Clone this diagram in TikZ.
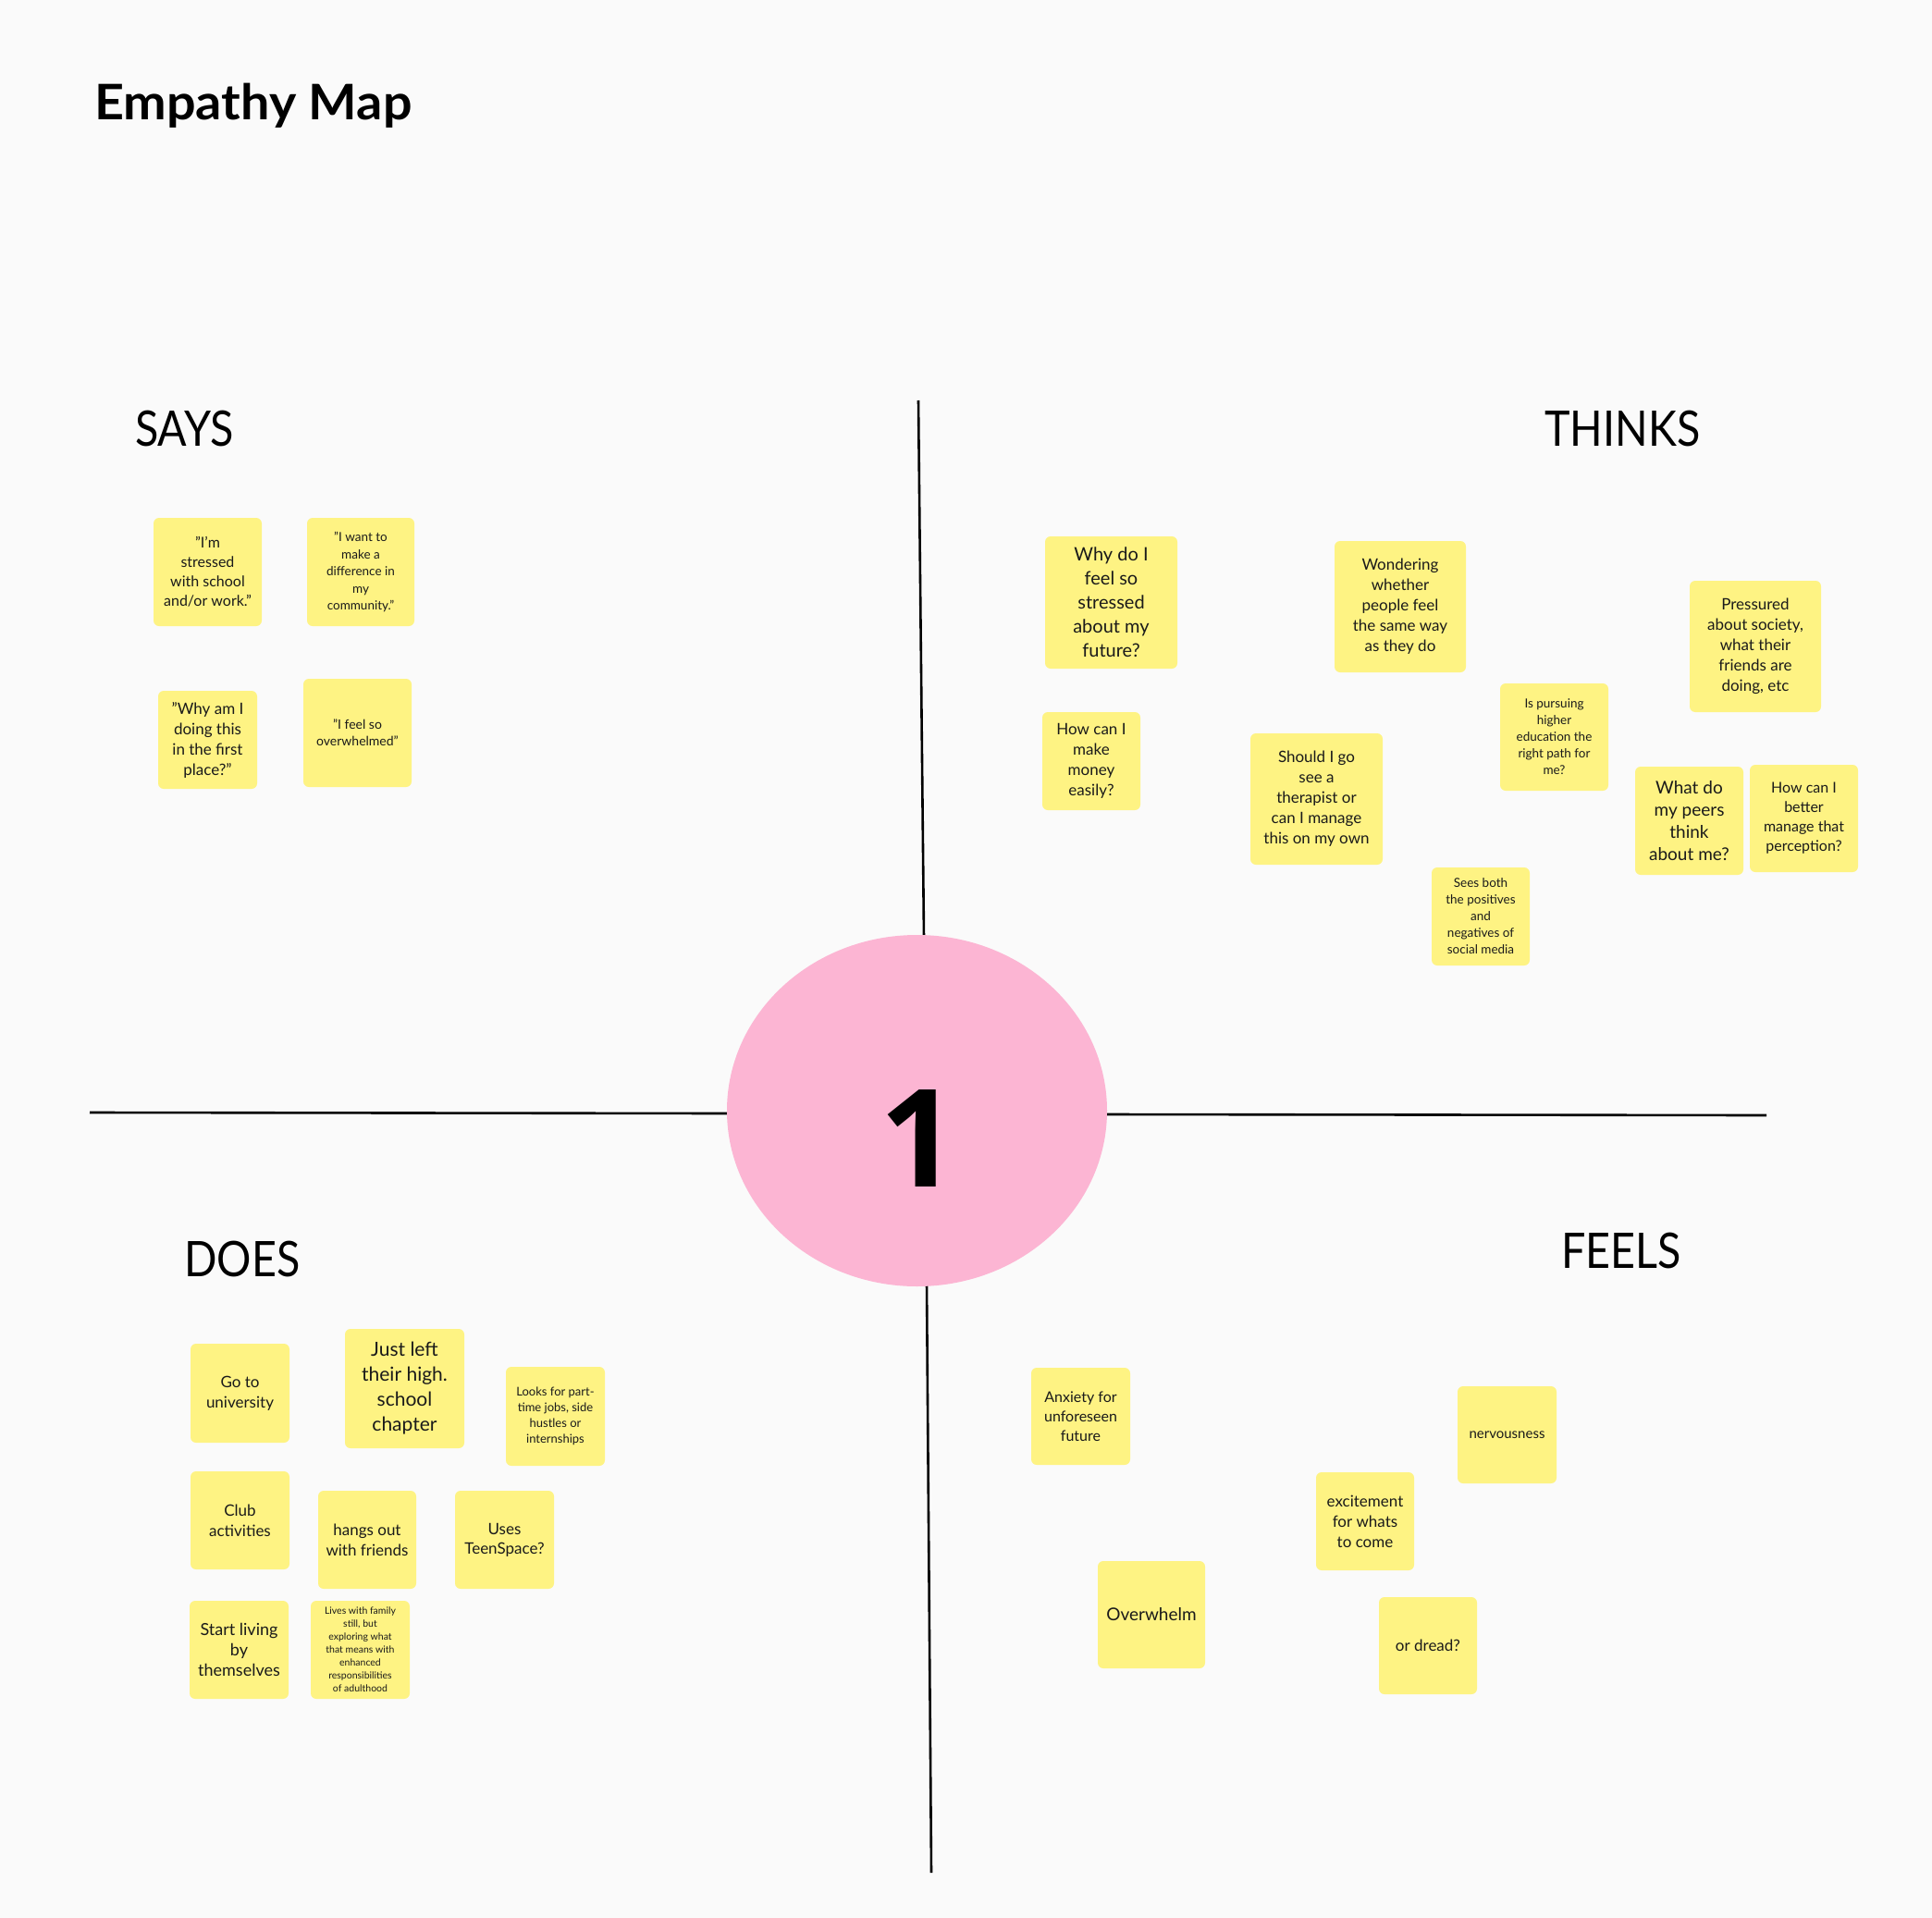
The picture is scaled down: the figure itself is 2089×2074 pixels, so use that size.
\documentclass[tikz,border=0pt]{standalone}
\usepackage{fontspec}
\setmainfont{Lato}
\newfontfamily\numfont{Open Sans}
\usetikzlibrary{shapes.geometric}
\definecolor{bgc}{HTML}{FAFAFA}
\definecolor{sticky}{HTML}{FEF383}
\definecolor{pinkc}{HTML}{FCB5D3}
\definecolor{ink}{HTML}{1A1A1A}
\newcommand{\hdr}[1]{\scalebox{0.88}[1]{#1}}
\begin{document}
\begin{tikzpicture}[x=1pt,y=-1pt,
  note/.style={fill=sticky, rounded corners=6pt, align=center, inner sep=0pt, text=ink},
  sz/.style 2 args={minimum width=#1, minimum height=#2},
  fnt/.style 2 args={font=\fontsize{#1}{#2}\selectfont},
  header/.style={anchor=base west, inner sep=0pt, text=black, font=\fontsize{53}{60}\selectfont},
  axis/.style={line width=2.6pt, black}]
\fill[bgc] (0,0) rectangle (2089,2074);
\useasboundingbox (0,0) rectangle (2089,2074);

\node[anchor=base west, inner sep=0pt, font=\fontsize{53}{60}\selectfont\bfseries] (title) at (102,130) {\scalebox{1.05}[1]{Empathy Map}};

% axes
\coordinate (vt1) at (993,433);
\coordinate (vt2) at (999,1015);
\coordinate (vb1) at (1002,1387);
\coordinate (vb2) at (1007,2025);
\coordinate (hl1) at (97,1203);
\coordinate (hl2) at (790,1204);
\coordinate (hr1) at (1193,1205);
\coordinate (hr2) at (1910,1206);
\draw[axis] (vt1) -- (vt2);
\draw[axis] (vb1) -- (vb2);
\draw[axis] (hl1) -- (hl2);
\draw[axis] (hr1) -- (hr2);

\node[ellipse, fill=pinkc, minimum width=411, minimum height=380, inner sep=0pt] (hub) at (991.5,1201) {};
\node[anchor=base, font=\fontsize{147}{150}\numfont\bfseries] (num) at (993,1283) {1};

% headers
\node[header] (says) at (146,482) {\hdr{SAYS}};
\node[header] (thinks) at (1670,482) {\hdr{THINKS}};
\node[header] (does) at (199,1380) {\hdr{DOES}};
\node[header] (feels) at (1688,1371) {\hdr{FEELS}};

% SAYS
\node[note, sz={117}{117}, fnt={16}{21}] (s1) at (224.5,618.5) {"I'm\\stressed\\with school\\and/or work."};
\node[note, sz={116}{117}, fnt={13.5}{18.5}] (s2) at (390,618.5) {"I want to\\make a\\difference in\\my\\community."};
\node[note, sz={107}{106}, fnt={17}{22}] (s3) at (224.5,800) {"Why am I\\doing this\\in the first\\place?"};
\node[note, sz={117}{117}, fnt={14}{18}] (s4) at (386.5,792.5) {"I feel so\\overwhelmed"};

% THINKS
\node[note, sz={143}{143}, fnt={20}{26}] (t1) at (1201.5,651.5) {Why do I\\feel so\\stressed\\about my\\future?};
\node[note, sz={106}{106}, fnt={17}{22}] (t2) at (1180,823) {How can I\\make\\money\\easily?};
\node[note, sz={142}{142}, fnt={17}{22}] (t3) at (1514,656) {Wondering\\whether\\people feel\\the same way\\as they do};
\node[note, sz={117}{116}, fnt={13.5}{18}] (t4) at (1680.5,797) {Is pursuing\\higher\\education the\\right path for\\me?};
\node[note, sz={142}{142}, fnt={17}{22}] (t5) at (1898,699) {Pressured\\about society,\\what their\\friends are\\doing, etc};
\node[note, sz={143}{142}, fnt={17}{22}] (t6) at (1423.5,864) {Should I go\\see a\\therapist or\\can I manage\\this on my own};
\node[note, sz={117}{117}, fnt={19}{24}] (t7) at (1826.5,887.5) {What do\\my peers\\think\\about me?};
\node[note, sz={117}{116}, fnt={16}{21}] (t8) at (1950.5,885) {How can I\\better\\manage that\\perception?};
\node[note, sz={106}{106}, fnt={13.5}{18}] (t9) at (1601,991) {Sees both\\the positives\\and\\negatives of\\social media};

% DOES
\node[note, sz={107}{107}, fnt={17}{22}] (d1) at (259.5,1506.5) {Go to\\university};
\node[note, sz={129}{129}, fnt={21}{27}] (d2) at (437.5,1501.5) {Just left\\their high.\\school\\chapter};
\node[note, sz={107}{107}, fnt={13}{17}] (d3) at (600.5,1531.5) {Looks for part-\\time jobs, side\\hustles or\\internships};
\node[note, sz={107}{106}, fnt={17}{22}] (d4) at (259.5,1644) {Club\\activities};
\node[note, sz={106}{106}, fnt={17}{22}] (d5) at (397,1665) {hangs out\\with friends};
\node[note, sz={107}{106}, fnt={17}{21}] (d6) at (545.5,1665) {Uses\\TeenSpace?};
\node[note, sz={107}{106}, fnt={18}{22}] (d7) at (258.5,1784) {Start living\\by\\themselves};
\node[note, sz={107}{106}, fnt={10.5}{14}] (d8) at (389.5,1784) {Lives with family\\still, but\\exploring what\\that means with\\enhanced\\responsibilities\\of adulthood};

% FEELS
\node[note, sz={107}{105}, fnt={16}{21}] (f1) at (1168.5,1531.5) {Anxiety for\\unforeseen\\future};
\node[note, sz={107}{105}, fnt={15}{20}] (f2) at (1629.5,1551.5) {nervousness};
\node[note, sz={106}{106}, fnt={17}{22}] (f3) at (1476,1645) {excitement\\for whats\\to come};
\node[note, sz={116}{116}, fnt={19}{24}] (f4) at (1245,1746) {Overwhelm};
\node[note, sz={106}{105}, fnt={17}{22}] (f5) at (1544,1779.5) {or dread?};
\end{tikzpicture}
\end{document}
